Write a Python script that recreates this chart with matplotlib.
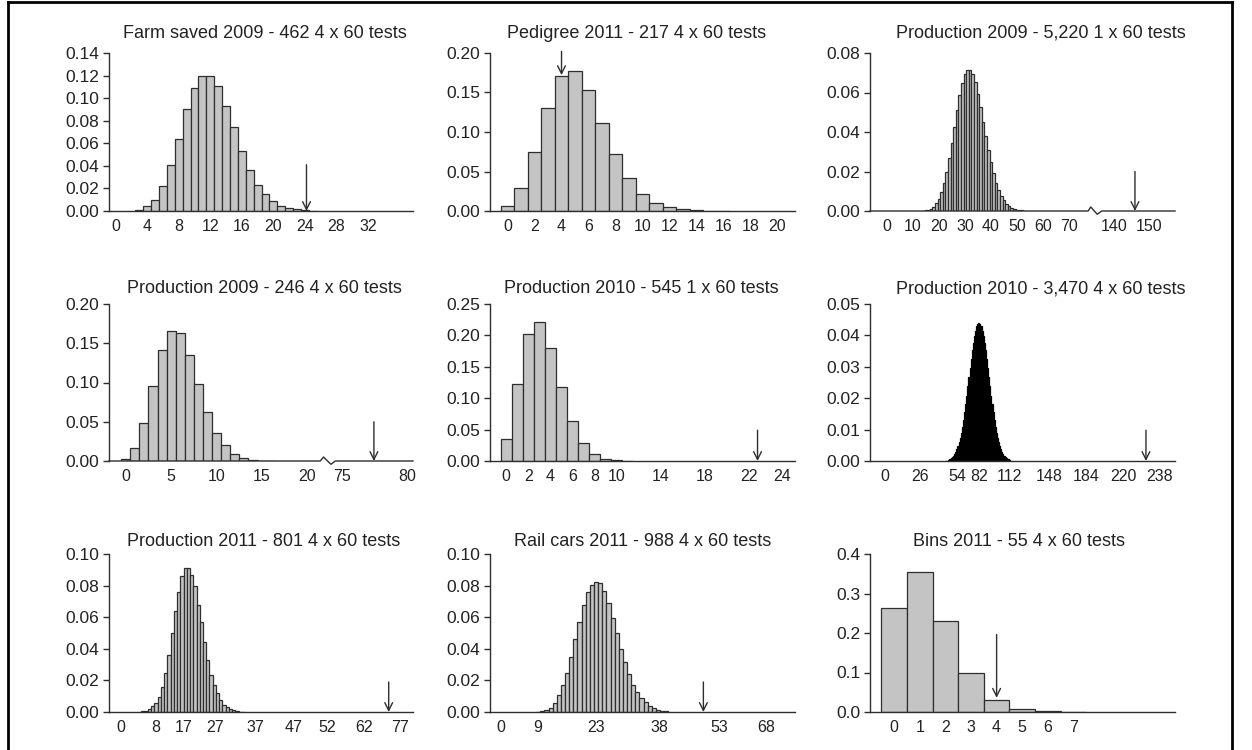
import numpy as np
import matplotlib
matplotlib.use('Agg')
import matplotlib.pyplot as plt
import matplotlib.transforms as mtransforms
from matplotlib import font_manager
from matplotlib.lines import Line2D

W, H = 1252, 750
plt.rcParams['font.family'] = ['Liberation Sans', 'DejaVu Sans']

# narrow font for the x labels if we have one
try:
    font_manager.findfont('Liberation Sans Narrow', fallback_to_default=False)
    xfont = dict(family='Liberation Sans Narrow', size=12.5)
except Exception:
    xfont = dict(family='Liberation Sans', size=11.5)

# ---------------- data (proportions per count) ----------------
titles = ['Farm saved 2009 - 462 4 x 60 tests', 'Pedigree 2011 - 217 4 x 60 tests',
          'Production 2009 - 5,220 1 x 60 tests', 'Production 2009 - 246 4 x 60 tests',
          'Production 2010 - 545 1 x 60 tests', 'Production 2010 - 3,470 4 x 60 tests',
          'Production 2011 - 801 4 x 60 tests', 'Rail cars 2011 - 988 4 x 60 tests',
          'Bins 2011 - 55 4 x 60 tests']

farm09_start = 3
farm09 = [0.001, 0.0045, 0.010, 0.022, 0.041, 0.064, 0.090, 0.109, 0.120, 0.120, 0.111, 0.093,
          0.074, 0.053, 0.036, 0.023, 0.015, 0.0086, 0.0045, 0.0027, 0.0015, 0.0008, 0.0004]
ped11_start = 0
ped11 = [0.006, 0.029, 0.075, 0.130, 0.171, 0.177, 0.153, 0.112, 0.072, 0.042, 0.021, 0.0097,
         0.0047, 0.002, 0.001, 0.0004, 0.0002]
prod09a_start = 14
prod09a = [0.0001, 0.0003, 0.0006, 0.0012, 0.0022, 0.0038, 0.0061, 0.0095, 0.0140, 0.0198, 0.0267,
           0.0345, 0.0427, 0.0509, 0.0585, 0.0647, 0.0692, 0.0715, 0.0715, 0.0693, 0.0651, 0.0593,
           0.0526, 0.0453, 0.0379, 0.0310, 0.0246, 0.0191, 0.0144, 0.0106, 0.0077, 0.0054, 0.0037,
           0.0025, 0.0016, 0.0011, 0.0007, 0.0004, 0.0003, 0.0002]
prod09b_start = 0
prod09b = [0.003, 0.0166, 0.048, 0.095, 0.141, 0.165, 0.163, 0.135, 0.098, 0.063, 0.036, 0.020,
           0.0094, 0.004, 0.0017, 0.0005, 0.0002]
prod10a_start = 0
prod10a = [0.0347, 0.122, 0.2026, 0.221, 0.180, 0.118, 0.063, 0.028, 0.011, 0.0037, 0.001, 0.0003]
prod10b_start = 52
prod10b = [0.0001, 0.0001, 0.0003, 0.0005, 0.0007, 0.0009, 0.0012, 0.0017, 0.0022, 0.0029, 0.0037,
           0.0047, 0.0059, 0.0073, 0.0089, 0.0109, 0.0131, 0.0155, 0.0181, 0.0208, 0.0238, 0.0267,
           0.0296, 0.0325, 0.0352, 0.0377, 0.0397, 0.0415, 0.0429, 0.0437, 0.0441, 0.0437, 0.0429,
           0.0415, 0.0397, 0.0377, 0.0352, 0.0325, 0.0296, 0.0267, 0.0238, 0.0208, 0.0181, 0.0155,
           0.0131, 0.0109, 0.0089, 0.0073, 0.0059, 0.0047, 0.0037, 0.0029, 0.0022, 0.0017, 0.0012,
           0.0009, 0.0007, 0.0005, 0.0003, 0.0001, 0.0001]
prod11_start = 4
prod11 = [0.0004, 0.0009, 0.002, 0.0035, 0.006, 0.0095, 0.016, 0.025, 0.036, 0.050, 0.064, 0.076,
          0.086, 0.091, 0.091, 0.087, 0.0795, 0.068, 0.057, 0.044, 0.033, 0.0236, 0.017, 0.012,
          0.0078, 0.0046, 0.003, 0.0019, 0.0011, 0.0006, 0.0003, 0.0002]
rail11_start = 9
rail11 = [0.0002, 0.0006, 0.0013, 0.0028, 0.006, 0.0105, 0.017, 0.025, 0.035, 0.046, 0.057, 0.068,
          0.076, 0.0806, 0.0825, 0.0816, 0.0768, 0.069, 0.0595, 0.050, 0.040, 0.0316, 0.024, 0.0173,
          0.0127, 0.0089, 0.0061, 0.004, 0.0025, 0.0015, 0.0008, 0.0004]
bins11_start = 0
bins11 = [0.263, 0.3536, 0.231, 0.100, 0.031, 0.0084, 0.0034, 0.0005]

# tick labels as printed under each panel, and where they sit along the bars
xlab = [[0, 4, 8, 12, 16, 20, 24, 28, 32], list(range(0, 21, 2)),
        [0, 10, 20, 30, 40, 50, 60, 70, 140, 150], [0, 5, 10, 15, 20, 75, 80],
        [0, 2, 4, 6, 8, 10, 14, 18, 22, 24], [0, 26, 54, 82, 112, 148, 184, 220, 238],
        [0, 8, 17, 27, 37, 47, 52, 62, 77], [0, 9, 23, 38, 53, 68], list(range(8))]
xpos = [[0, 4, 8, 12, 16, 20, 24, 28, 32], list(range(0, 21, 2)),
        [0, 10, 20, 30, 40, 50, 60, 70, 87.5, 101], [0, 5, 10, 15, 20, 23.8, 31.0],
        [0, 2, 4, 6, 8, 10, 14, 18, 22, 25], [-4, 28, 62, 82, 110, 146, 180, 214, 247],
        [-3, 7.9, 16.6, 26.3, 38.6, 50.4, 60.7, 72.3, 83.4], [0, 8.9, 23, 38.3, 52.8, 64.1],
        list(range(8))]
ymax = [0.14, 0.20, 0.08, 0.20, 0.25, 0.05, 0.10, 0.10, 0.4]
ystep = [0.02, 0.05, 0.02, 0.05, 0.05, 0.01, 0.02, 0.02, 0.1]
# observed value marker: x, top, tip
arrows = [(24.2, 0.041, 0.0), (4, 0.202, 0.172), (95.4, 0.020, 0.0), (27.3, 0.05, 0.0),
          (22.8, 0.049, 0.0), (234.5, 0.0098, 0.0), (79.8, 0.019, 0.0), (49, 0.019, 0.0),
          (4, 0.196, 0.036)]

series = [(farm09_start, farm09), (ped11_start, ped11), (prod09a_start, prod09a),
          (prod09b_start, prod09b), (prod10a_start, prod10a), (prod10b_start, prod10b),
          (prod11_start, prod11), (rail11_start, rail11), (bins11_start, bins11)]

xlims = [(-0.83, 37.7), (-1.3, 21.3), (-6.5, 110.8), (-1.84, 31.6), (-1.48, 26.2),
         (-17.3, 261), (-6.5, 87.3), (-2.7, 71.2), (-0.94, 10.96)]
breaks = {2: (77.4, 78.4, 80.9, 82.6), 3: (21.4, 21.76, 22.57, 23.05)}

# layout in pixels
col_l = [109, 490, 870]
col_r = [413, 795, 1175]
row_t = [53, 304, 554]
row_b = [211, 461, 712]
title_cx = [265, 637, 1041, 264, 641, 1041, 264, 643, 1019]
title_y = [38, 293, 546]

fig = plt.figure(figsize=(W / 100, H / 100), dpi=100)
dark = '#2e2e2e'

for i in range(9):
    r, c = divmod(i, 3)
    l, rr, t, b = col_l[c], col_r[c], row_t[r], row_b[r]
    ax = fig.add_axes([l / W, 1 - b / H, (rr - l) / W, (b - t) / H])
    start, h = series[i]
    x = np.arange(start, start + len(h))
    # bars thinner than ~1.5 px just render as solid dark
    px_per_bar = (rr - l) / (xlims[i][1] - xlims[i][0])
    face = 'black' if px_per_bar < 1.5 else '#c4c4c4'
    edge = 'black' if px_per_bar < 1.5 else dark
    ax.bar(x, h, width=1.0, color=face, edgecolor=edge, linewidth=0.9, zorder=2)
    ax.set_xlim(*xlims[i])
    ax.set_ylim(0, ymax[i])

    for s in ['top', 'right', 'bottom']:
        ax.spines[s].set_visible(False)
    ax.spines['left'].set_color(dark)
    ax.spines['left'].set_linewidth(1.0)

    yt = np.arange(0, ymax[i] + ystep[i] / 2, ystep[i])
    ax.set_yticks(yt)
    fmt = '%.1f' if ystep[i] >= 0.1 else '%.2f'
    ax.set_yticklabels([fmt % v for v in yt])
    ax.tick_params(axis='y', length=4, width=1, color=dark, pad=3, labelsize=12.5, labelcolor='#222')

    ax.set_xticks(xpos[i])
    ax.set_xticklabels([str(v) for v in xlab[i]], **xfont)
    ax.tick_params(axis='x', length=0, pad=6, labelcolor='#222')

    # baseline, with a zigzag where the axis is broken
    tr = mtransforms.blended_transform_factory(ax.transData, ax.transAxes)
    x0, x1 = xlims[i]
    if i in breaks:
        b0, b1, b2, b3 = breaks[i]
        up, dn = 4.0 / (b - t), -3.3 / (b - t)
        ax.plot([x0, b0, b1, b2, b3, x1], [0, 0, up, dn, 0, 0], transform=tr,
                color=dark, lw=1.0, clip_on=False, zorder=3)
    else:
        ax.plot([x0, x1], [0, 0], transform=tr, color=dark, lw=1.0, clip_on=False, zorder=3)

    ax_x, top, tip = arrows[i]
    ax.annotate('', xy=(ax_x, tip), xytext=(ax_x, top), annotation_clip=False,
                arrowprops=dict(arrowstyle='->', color=dark, lw=1.0, shrinkA=0, shrinkB=0,
                                mutation_scale=14), zorder=4)

    fig.text(title_cx[i] / W, 1 - title_y[r] / H, titles[i], ha='center', va='baseline',
             fontsize=13, color='#222')

# frame round the figure
fig.add_artist(Line2D([7.5 / W, 7.5 / W], [0, 1 - 2 / H], transform=fig.transFigure, color='black', lw=2))
fig.add_artist(Line2D([7.5 / W, 1232 / W], [1 - 2 / H, 1 - 2 / H], transform=fig.transFigure, color='black', lw=2))
fig.add_artist(Line2D([1232 / W, 1232 / W], [0, 1 - 2 / H], transform=fig.transFigure, color='black', lw=2))

fig.savefig('out.png', dpi=100)
